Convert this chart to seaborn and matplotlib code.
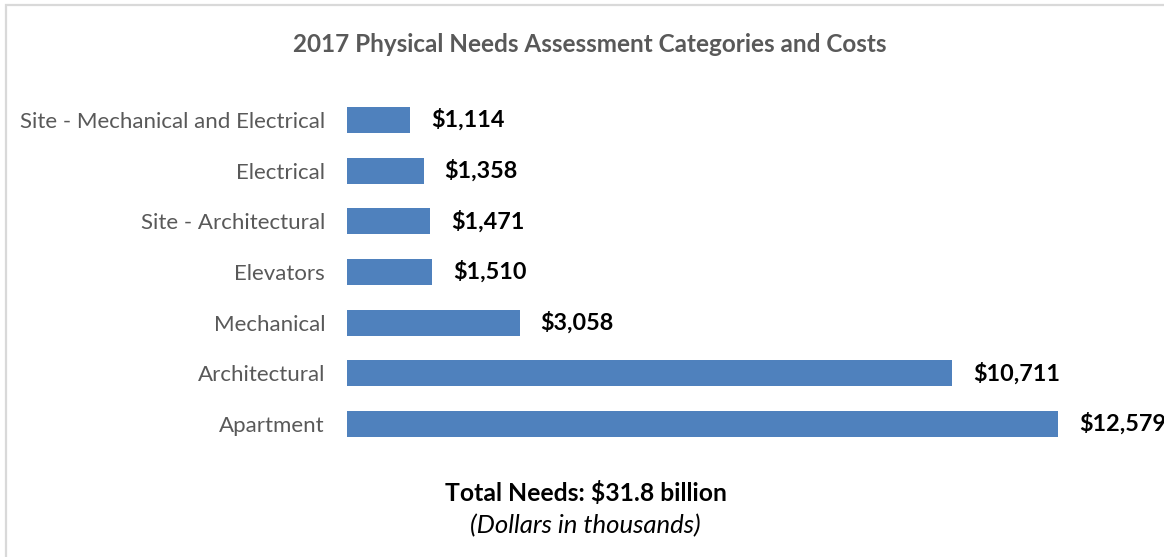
import matplotlib
matplotlib.use("Agg")
import matplotlib.pyplot as plt
import seaborn as sns
import pandas as pd
from matplotlib.patches import Rectangle

categories = [
    "Site - Mechanical and Electrical",
    "Electrical",
    "Site - Architectural",
    "Elevators",
    "Mechanical",
    "Architectural",
    "Apartment",
]
costs = [1114, 1358, 1471, 1510, 3058, 10711, 12579]

df = pd.DataFrame({"category": categories, "cost": costs})

sns.set_theme(style="white")
plt.rcParams["font.family"] = ["Lato", "DejaVu Sans"]

W, H = 1164, 557
fig = plt.figure(figsize=(W / 100, H / 100), dpi=100)

# light frame around the chart area
fig.patches.append(Rectangle((6 / W, -0.05), 1.2, 1 - 5 / H + 0.05, transform=fig.transFigure,
                             fill=False, edgecolor="#D9D9D9", linewidth=1.6, zorder=0))

left, right = 347 / W, 1058 / W
top_px, bot_px = 94.7, 449.3
ax = fig.add_axes([left, 1 - bot_px / H, right - left, (bot_px - top_px) / H])

sns.barplot(data=df, x="cost", y="category", orient="h", color="#4F81BD",
            saturation=1, width=0.51, ax=ax, edgecolor="none")

ax.set_xlim(0, max(costs))
ax.set_xlabel("")
ax.set_ylabel("")
ax.set_xticks([])
for s in ax.spines.values():
    s.set_visible(False)
ax.tick_params(axis="y", length=0, pad=15.8, labelsize=16, labelcolor="#595959")

for i, v in enumerate(costs):
    ax.annotate(f"${v:,}", xy=(v, i), xytext=(15, 0), textcoords="offset points",
                ha="left", va="center", fontsize=16.8, fontweight="bold",
                color="black", annotation_clip=False)

fig.text(589.5 / W, 1 - 44 / H, "2017 Physical Needs Assessment Categories and Costs",
         ha="center", va="center", fontsize=17.5, fontweight="bold", color="#595959")
fig.text(585.5 / W, 1 - 493 / H, "Total Needs: $31.8 billion",
         ha="center", va="center", fontsize=17.8, fontweight="bold", color="black")
fig.text(585 / W, 1 - 526 / H, "(Dollars in thousands)",
         ha="center", va="center", fontsize=18.5, fontstyle="italic", color="black")

fig.savefig("out.png", dpi=100, facecolor="white")
